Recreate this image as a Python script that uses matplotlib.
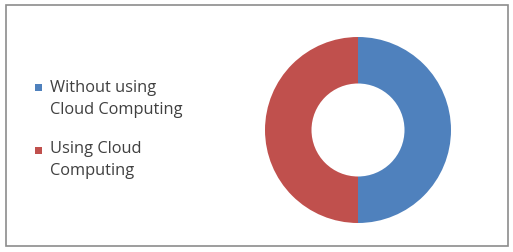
import matplotlib
matplotlib.use("Agg")
import matplotlib.pyplot as plt
from matplotlib.patches import Rectangle

labels = ["Without using\nCloud Computing", "Using Cloud\nComputing"]
values = [50, 50]
colors = ["#4F81BD", "#C0504D"]

W, H = 513, 252
fig = plt.figure(figsize=(W / 100, H / 100), dpi=100)
fig.patch.set_facecolor("white")

# chart frame
fig.add_artist(Rectangle((6 / W, 6 / H), 502 / W, 241 / H, transform=fig.transFigure,
                         fill=False, edgecolor="#8c8c8c", linewidth=1.2))

cx, cy, r = 358, 252 - 130, 93
ax = fig.add_axes([(cx - r) / W, (cy - r) / H, 2 * r / W, 2 * r / H])
wedges, _ = ax.pie(values, colors=colors, startangle=90, counterclock=False,
                   radius=1.0, wedgeprops=dict(width=0.5, edgecolor="none"))
ax.set_xlim(-1, 1)
ax.set_ylim(-1, 1)
ax.set_axis_off()

# legend (markers aligned with the first line of each label, as in the original)
marker_bottoms = [91, 154]   # pixel rows from top
last_baselines = [114, 175]  # pixel rows from top
for lab, col, mb, yb in zip(labels, colors, marker_bottoms, last_baselines):
    fig.add_artist(Rectangle((35 / W, (H - mb) / H), 7 / W, 7 / H,
                             transform=fig.transFigure, facecolor=col, edgecolor="none"))
    fig.text(50 / W, (H - yb) / H, lab, ha="left", va="baseline",
             family="Open Sans", fontsize=11.8, color="#404040", linespacing=1.47)

fig.savefig("out.png", dpi=100, facecolor="white")
